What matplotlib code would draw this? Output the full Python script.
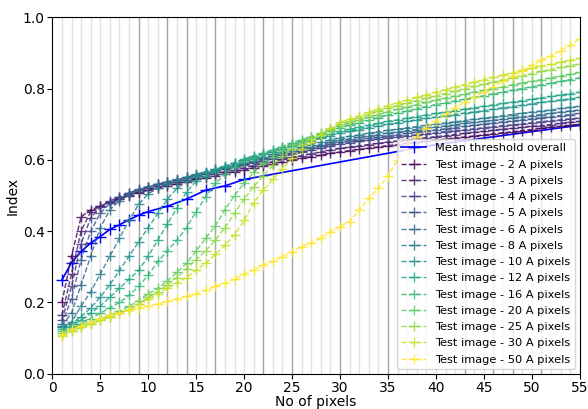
import numpy as np
import matplotlib
matplotlib.use("Agg")
from matplotlib import pyplot as plt

pixels = list(range(1, 56))

mean_x = [1, 2, 3, 4, 5, 6, 7, 8, 9, 10, 12, 14, 16, 18, 20, 40, 55]
mean_threshold = [0.263, 0.312, 0.343, 0.367, 0.385, 0.405, 0.418, 0.432, 0.445,
                  0.455, 0.470, 0.490, 0.515, 0.527, 0.545, 0.643, 0.697]

a2 = [0.200, 0.330, 0.440, 0.460, 0.470, 0.480, 0.490, 0.500, 0.508, 0.515,
      0.521, 0.527, 0.533, 0.539, 0.545, 0.550, 0.556, 0.561, 0.567, 0.572,
      0.578, 0.583, 0.589, 0.594, 0.600, 0.604, 0.609, 0.613, 0.618, 0.622,
      0.626, 0.629, 0.633, 0.636, 0.640, 0.643, 0.646, 0.649, 0.652, 0.655,
      0.658, 0.661, 0.664, 0.667, 0.670, 0.673, 0.676, 0.679, 0.682, 0.685,
      0.688, 0.691, 0.694, 0.697, 0.700]
a3 = [0.165, 0.280, 0.400, 0.455, 0.470, 0.482, 0.492, 0.502, 0.511, 0.520,
      0.526, 0.532, 0.538, 0.544, 0.550, 0.556, 0.561, 0.567, 0.572, 0.578,
      0.584, 0.590, 0.595, 0.601, 0.607, 0.612, 0.617, 0.622, 0.627, 0.632,
      0.636, 0.639, 0.643, 0.646, 0.650, 0.653, 0.656, 0.659, 0.662, 0.665,
      0.668, 0.671, 0.674, 0.677, 0.680, 0.683, 0.686, 0.688, 0.691, 0.694,
      0.696, 0.699, 0.702, 0.705, 0.708]
a4 = [0.150, 0.245, 0.365, 0.437, 0.468, 0.485, 0.497, 0.507, 0.516, 0.525,
      0.531, 0.537, 0.543, 0.549, 0.555, 0.561, 0.567, 0.573, 0.579, 0.585,
      0.591, 0.597, 0.603, 0.609, 0.615, 0.621, 0.627, 0.633, 0.639, 0.645,
      0.648, 0.652, 0.655, 0.659, 0.662, 0.665, 0.668, 0.670, 0.673, 0.676,
      0.679, 0.682, 0.684, 0.687, 0.690, 0.693, 0.696, 0.698, 0.701, 0.704,
      0.707, 0.710, 0.712, 0.715, 0.718]
a5 = [0.140, 0.210, 0.320, 0.400, 0.450, 0.478, 0.495, 0.507, 0.517, 0.525,
      0.531, 0.538, 0.544, 0.551, 0.557, 0.563, 0.569, 0.576, 0.582, 0.588,
      0.594, 0.601, 0.607, 0.614, 0.620, 0.626, 0.632, 0.638, 0.644, 0.650,
      0.654, 0.657, 0.661, 0.664, 0.668, 0.671, 0.674, 0.678, 0.681, 0.684,
      0.687, 0.690, 0.694, 0.697, 0.700, 0.703, 0.706, 0.709, 0.712, 0.715,
      0.718, 0.721, 0.724, 0.727, 0.730]
a6 = [0.135, 0.170, 0.250, 0.330, 0.410, 0.460, 0.485, 0.502, 0.515, 0.525,
      0.532, 0.538, 0.545, 0.551, 0.558, 0.564, 0.571, 0.577, 0.584, 0.590,
      0.597, 0.604, 0.611, 0.618, 0.625, 0.631, 0.637, 0.643, 0.649, 0.655,
      0.659, 0.663, 0.667, 0.671, 0.675, 0.678, 0.682, 0.685, 0.689, 0.692,
      0.695, 0.698, 0.702, 0.705, 0.708, 0.711, 0.714, 0.718, 0.721, 0.724,
      0.727, 0.730, 0.734, 0.737, 0.740]
a8 = [0.130, 0.145, 0.190, 0.230, 0.280, 0.330, 0.380, 0.430, 0.475, 0.505,
      0.520, 0.531, 0.541, 0.551, 0.560, 0.567, 0.574, 0.581, 0.588, 0.595,
      0.602, 0.609, 0.616, 0.623, 0.630, 0.636, 0.643, 0.649, 0.656, 0.662,
      0.666, 0.670, 0.675, 0.679, 0.683, 0.686, 0.690, 0.693, 0.697, 0.700,
      0.703, 0.707, 0.710, 0.714, 0.717, 0.720, 0.724, 0.727, 0.731, 0.734,
      0.737, 0.740, 0.744, 0.747, 0.750]
a10 = [0.130, 0.140, 0.160, 0.185, 0.215, 0.250, 0.290, 0.330, 0.370, 0.410,
       0.450, 0.490, 0.520, 0.540, 0.555, 0.564, 0.573, 0.582, 0.591, 0.600,
       0.608, 0.615, 0.623, 0.630, 0.638, 0.645, 0.653, 0.660, 0.668, 0.675,
       0.680, 0.685, 0.690, 0.695, 0.700, 0.704, 0.708, 0.712, 0.716, 0.720,
       0.724, 0.727, 0.731, 0.734, 0.738, 0.742, 0.746, 0.749, 0.753, 0.757,
       0.761, 0.764, 0.768, 0.771, 0.775]
a12 = [0.125, 0.135, 0.150, 0.170, 0.190, 0.215, 0.240, 0.265, 0.290, 0.330,
       0.375, 0.420, 0.465, 0.510, 0.540, 0.555, 0.568, 0.580, 0.592, 0.603,
       0.611, 0.619, 0.627, 0.635, 0.643, 0.650, 0.658, 0.665, 0.673, 0.680,
       0.686, 0.691, 0.697, 0.702, 0.708, 0.712, 0.717, 0.721, 0.726, 0.730,
       0.734, 0.738, 0.742, 0.746, 0.750, 0.754, 0.758, 0.762, 0.766, 0.770,
       0.774, 0.778, 0.782, 0.786, 0.790]
a16 = [0.120, 0.130, 0.140, 0.155, 0.170, 0.185, 0.200, 0.220, 0.245, 0.277,
       0.315, 0.345, 0.375, 0.410, 0.455, 0.497, 0.534, 0.560, 0.580, 0.595,
       0.606, 0.616, 0.627, 0.637, 0.648, 0.656, 0.665, 0.673, 0.682, 0.690,
       0.697, 0.704, 0.711, 0.718, 0.725, 0.731, 0.737, 0.743, 0.749, 0.755,
       0.760, 0.765, 0.770, 0.775, 0.780, 0.785, 0.790, 0.795, 0.800, 0.805,
       0.810, 0.815, 0.820, 0.825, 0.830]
a20 = [0.115, 0.125, 0.135, 0.145, 0.155, 0.165, 0.175, 0.190, 0.205, 0.225,
       0.240, 0.260, 0.285, 0.310, 0.345, 0.380, 0.415, 0.460, 0.500, 0.535,
       0.565, 0.590, 0.608, 0.627, 0.643, 0.653, 0.664, 0.674, 0.685, 0.695,
       0.703, 0.711, 0.719, 0.727, 0.735, 0.742, 0.748, 0.755, 0.761, 0.768,
       0.773, 0.779, 0.784, 0.790, 0.795, 0.800, 0.805, 0.810, 0.815, 0.820,
       0.825, 0.830, 0.835, 0.840, 0.845]
a25 = [0.110, 0.120, 0.130, 0.140, 0.150, 0.160, 0.170, 0.180, 0.195, 0.215,
       0.230, 0.250, 0.270, 0.295, 0.320, 0.345, 0.375, 0.410, 0.450, 0.490,
       0.525, 0.555, 0.585, 0.610, 0.630, 0.644, 0.658, 0.672, 0.686, 0.700,
       0.709, 0.718, 0.727, 0.736, 0.745, 0.752, 0.759, 0.766, 0.773, 0.780,
       0.786, 0.793, 0.799, 0.806, 0.812, 0.818, 0.824, 0.830, 0.836, 0.842,
       0.848, 0.853, 0.859, 0.864, 0.870]
a30 = [0.105, 0.120, 0.130, 0.140, 0.150, 0.160, 0.170, 0.180, 0.195, 0.210,
       0.225, 0.240, 0.255, 0.270, 0.290, 0.310, 0.335, 0.360, 0.390, 0.430,
       0.480, 0.515, 0.545, 0.575, 0.605, 0.630, 0.650, 0.670, 0.688, 0.705,
       0.714, 0.724, 0.733, 0.743, 0.752, 0.760, 0.767, 0.775, 0.782, 0.790,
       0.797, 0.804, 0.811, 0.818, 0.825, 0.831, 0.838, 0.844, 0.851, 0.857,
       0.863, 0.868, 0.874, 0.879, 0.885]
a50 = [0.110, 0.125, 0.135, 0.145, 0.155, 0.165, 0.170, 0.178, 0.185, 0.190,
       0.197, 0.203, 0.210, 0.217, 0.225, 0.235, 0.245, 0.255, 0.265, 0.280,
       0.291, 0.305, 0.315, 0.328, 0.342, 0.357, 0.367, 0.380, 0.399, 0.413,
       0.427, 0.459, 0.492, 0.520, 0.555, 0.600, 0.635, 0.665, 0.690, 0.710,
       0.728, 0.745, 0.762, 0.777, 0.791, 0.805, 0.820, 0.835, 0.850, 0.865,
       0.880, 0.892, 0.906, 0.921, 0.940]

sizes = [2, 3, 4, 5, 6, 8, 10, 12, 16, 20, 25, 30, 50]
tests = [a2, a3, a4, a5, a6, a8, a10, a12, a16, a20, a25, a30, a50]

# pixel counts picked as cut-offs; the heavier lines are shared by several runs
light_cuts = [1, 2, 3, 4, 5, 6, 7, 8, 10, 11, 13, 15, 16, 18, 19, 20, 21, 23, 24,
              26, 27, 28, 29, 31, 32, 33, 34, 36, 37, 38, 39, 40, 41, 42, 44, 45,
              47, 49, 50, 52, 53, 54]
heavy_cuts = [9, 12, 14, 17, 22, 25, 30, 35, 43, 46, 48, 51]

fig, ax = plt.subplots(1)
fig.set_size_inches(5.88, 4.09)
fig.subplots_adjust(left=0.089, right=0.986, top=0.958, bottom=0.086)

for c in light_cuts:
    ax.axvline(c, color="0.89", lw=1, zorder=0)
for c in heavy_cuts:
    ax.axvline(c, color="0.64", lw=1, zorder=0)

ax.plot(mean_x, mean_threshold, color="blue", marker="+", markersize=9,
        lw=1.2, label="Mean threshold overall")
colors = plt.cm.viridis(np.linspace(0, 1, len(sizes)))
for size, vals, col in zip(sizes, tests, colors):
    ax.plot(pixels, vals, "--", color=col, marker="+", markersize=7, lw=1.0,
            alpha=0.85, label="Test image - %d A pixels" % size)

ax.set_xlim(0, 55)
ax.set_ylim(0, 1)
ax.set_xticks(range(0, 56, 5))
ax.set_yticks(np.arange(0, 1.01, 0.2))
ax.tick_params(labelsize=10, pad=2)
ax.set_xlabel("No of pixels", fontsize=10, labelpad=0)
ax.set_ylabel("Index", fontsize=10, labelpad=2)
ax.legend(loc="lower right", fontsize=8.2, handlelength=2.2, borderaxespad=0.4,
          labelspacing=0.55)

fig.savefig("out.png", dpi=100)
